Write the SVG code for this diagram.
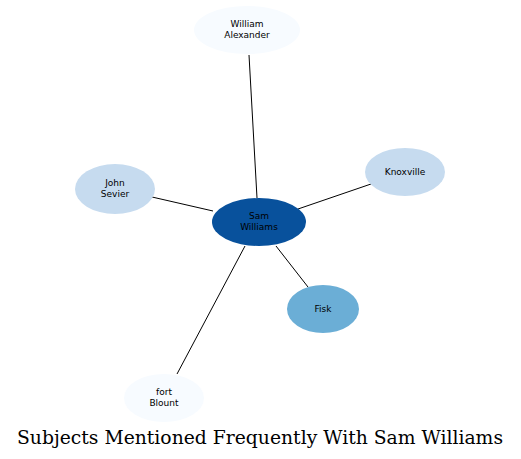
<svg xmlns="http://www.w3.org/2000/svg" width="521" height="459" viewBox="0 0 521 459">
<style>
.n text{font-family:"DejaVu Sans",sans-serif;font-size:9px;text-anchor:middle;fill:#000}
.e line{stroke:#000;stroke-width:1}
.t{font-family:"DejaVu Serif",serif;font-size:18.5px;text-anchor:middle;fill:#000}
</style>
<rect width="521" height="459" fill="#fff"/>
<g class="e" id="edges">
<line x1="257" y1="198" x2="249" y2="55"/>
<line x1="213" y1="211" x2="152" y2="197"/>
<line x1="298" y1="209" x2="371" y2="184"/>
<line x1="276" y1="246" x2="308" y2="287"/>
<line x1="245" y1="246" x2="177" y2="374"/>
</g>
<g class="n" id="william_alexander"><ellipse cx="247" cy="30" rx="53" ry="24" fill="#f7fbff"/><text x="247" y="26.5">William</text><text x="247" y="37.5">Alexander</text></g>
<g class="n" id="sam_williams"><ellipse cx="259" cy="222" rx="47" ry="24" fill="#08519c"/><text x="259" y="218.5">Sam</text><text x="259" y="229.5">Williams</text></g>
<g class="n" id="john_sevier"><ellipse cx="115" cy="189" rx="40" ry="25" fill="#c6dbef"/><text x="115" y="185.5">John</text><text x="115" y="196.5">Sevier</text></g>
<g class="n" id="knoxville"><ellipse cx="405" cy="172" rx="40" ry="24" fill="#c6dbef"/><text x="405" y="175">Knoxville</text></g>
<g class="n" id="fisk"><ellipse cx="323" cy="309" rx="36" ry="24" fill="#6baed6"/><text x="323" y="312">Fisk</text></g>
<g class="n" id="fort_blount"><ellipse cx="164" cy="398" rx="40" ry="24" fill="#f7fbff"/><text x="164" y="394.5">fort</text><text x="164" y="405.5">Blount</text></g>
<text class="t" x="260" y="443.5" textLength="486" lengthAdjust="spacingAndGlyphs">Subjects Mentioned Frequently With Sam Williams</text>
</svg>
